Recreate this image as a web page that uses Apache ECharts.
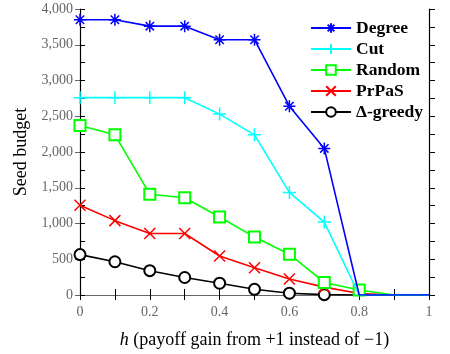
<!DOCTYPE html>
<html><head><meta charset="utf-8">
<script src="https://cdn.jsdelivr.net/npm/echarts@6/dist/echarts.min.js"></script>
<style>html,body{margin:0;padding:0;background:#fff}#c{width:450px;height:354px}</style>
</head><body><div id="c"></div>
<script>
var hValues = [0, 0.1, 0.2, 0.3, 0.4, 0.5, 0.6, 0.7, 0.8, 0.9, 1];
var degree  = [3850, 3850, 3760, 3760, 3570, 3570, 2640, 2050, 0, 0, 0];
var cut     = [2760, 2760, 2760, 2760, 2530, 2240, 1435, 1020, 0, 0, 0];
var random  = [2370, 2240, 1410, 1360, 1090, 810, 570, 175, 70, 0, 0];
var prpas   = [1255, 1040, 860, 860, 545, 380, 225, 110, 20, 0, 0];
var greedy  = [565, 465, 340, 245, 165, 80, 25, 5, 0, 0, 0];
var seriesNames = ['Degree', 'Cut', 'Random', 'PrPaS', '\u0394-greedy'];
var markerCounts = [8, 8, 9, 8, 8];
var xTickLabels = ['0', '0.2', '0.4', '0.6', '0.8', '1'];
var yTickLabels = ['0', '500', '1,000', '1,500', '2,000', '2,500', '3,000', '3,500', '4,000'];

var colors = ['#0000ff', '#00ffff', '#00ff00', '#ff0000', '#000000'];
var symbols = [
  'path://M5,0L5,10M0,5L10,5M1.5,1.5L8.5,8.5M1.5,8.5L8.5,1.5',
  'path://M5,0L5,10M0,5L10,5',
  'emptyRect',
  'path://M0,0L10,10M0,10L10,0',
  'emptyCircle'
];
var sizes = [12, 13, 11, 11, 11];
var values = [degree, cut, random, prpas, greedy];
var serif = '"Liberation Serif", "DejaVu Serif", serif';

var series = values.map(function (vals, k) {
  return {
    name: seriesNames[k], type: 'line', xAxisIndex: 0, yAxisIndex: 0,
    symbol: symbols[k], symbolSize: sizes[k], symbolKeepAspect: true,
    showAllSymbol: true,
    lineStyle: { color: colors[k], width: 1.6 },
    itemStyle: { color: colors[k], borderColor: colors[k], borderWidth: 1.5 },
    z: 10 - k,
    data: vals.map(function (v, i) {
      var d = { value: [hValues[i], v] };
      if (i >= markerCounts[k]) d.symbol = 'none';
      return d;
    })
  };
});

var chart = echarts.init(document.getElementById('c'), null, { renderer: 'canvas' });
chart.setOption({
  animation: false,
  backgroundColor: '#fff',
  grid: { left: 80, right: 21, top: 9, bottom: 59 },
  legend: {
    orient: 'vertical', left: 305, top: 14, itemWidth: 40, itemHeight: 12, itemGap: 3,
    textStyle: { fontFamily: serif, fontWeight: 'bold', fontSize: 17.5, color: '#000', lineHeight: 18 },
    data: seriesNames
  },
  xAxis: [{
    type: 'value', min: 0, max: 1, interval: 0.1, position: 'bottom',
    name: '{i|h} (payoff gain from +1 instead of \u22121)', nameLocation: 'middle', nameGap: 36,
    nameTextStyle: { fontFamily: serif, fontSize: 18, color: '#000', rich: { i: { fontFamily: serif, fontSize: 18, fontStyle: 'italic', color: '#000' } } },
    axisLine: { lineStyle: { color: '#666', width: 1.2 } },
    axisTick: { inside: false, length: 5, lineStyle: { color: '#000' } },
    axisLabel: { fontFamily: serif, fontSize: 14, color: '#666', margin: 10,
      formatter: function (v) { var k = Math.round(v * 10); return k % 2 === 0 ? xTickLabels[k / 2] : ''; } },
    splitLine: { show: false }
  }, {
    type: 'value', min: 0, max: 1, interval: 0.1, position: 'top',
    axisLine: { lineStyle: { color: '#666', width: 1.2 } },
    axisTick: { inside: false, length: 6, lineStyle: { color: '#000' } },
    axisLabel: { show: false }, splitLine: { show: false }
  }],
  yAxis: [{
    type: 'value', min: 0, max: 4000, interval: 500, position: 'left',
    name: 'Seed budget', nameLocation: 'middle', nameGap: 42,
    nameTextStyle: { fontFamily: serif, fontSize: 18, color: '#000' },
    axisLine: { lineStyle: { color: '#000', width: 1.2 } },
    axisTick: { inside: false, length: 5, lineStyle: { color: '#666' } },
    axisLabel: { fontFamily: serif, fontSize: 14, color: '#666', margin: 7,
      formatter: function (v) { return yTickLabels[Math.round(v / 500)]; } },
    splitLine: { show: false }
  }, {
    type: 'value', min: 0, max: 4000, interval: 250, position: 'left',
    axisLine: { show: false },
    axisTick: { inside: true, length: 5, lineStyle: { color: '#000' } },
    axisLabel: { show: false }, splitLine: { show: false }
  }, {
    type: 'value', min: 0, max: 4000, interval: 250, position: 'right',
    axisLine: { lineStyle: { color: '#000', width: 1.2 } },
    axisTick: { inside: false, length: 6, lineStyle: { color: '#000' } },
    axisLabel: { show: false }, splitLine: { show: false }
  }],
  series: series
});
</script></body></html>
